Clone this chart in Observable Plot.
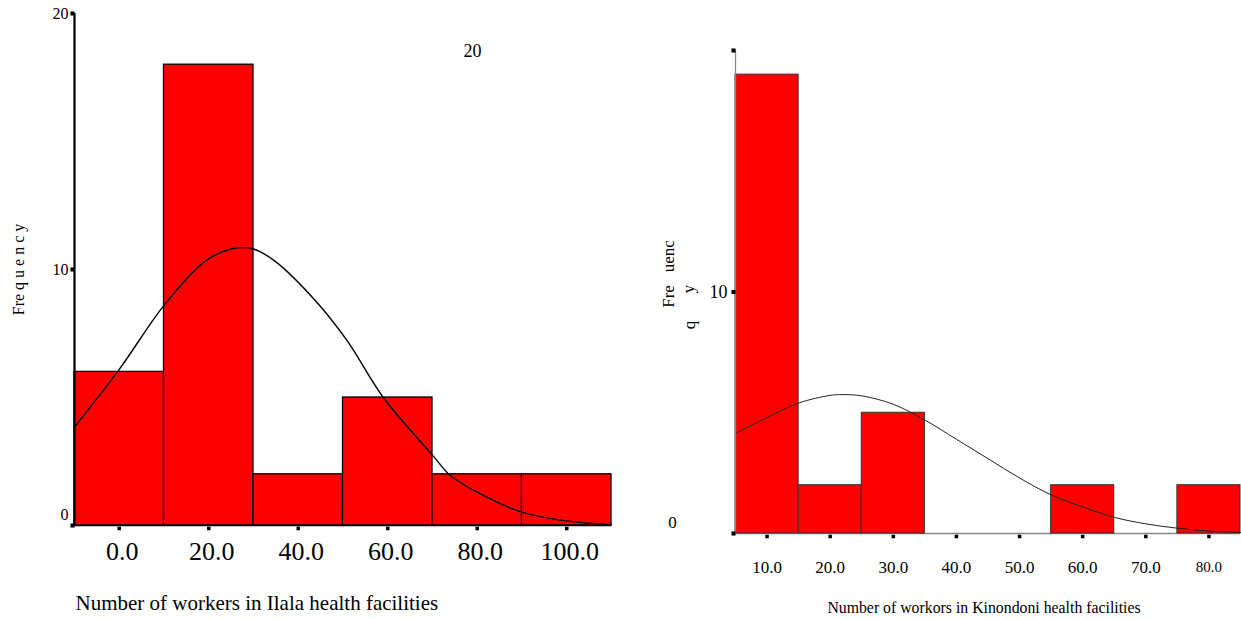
<!DOCTYPE html>
<html>
<head>
<meta charset="utf-8">
<script src="https://cdn.jsdelivr.net/npm/d3@7"></script>
<script src="https://cdn.jsdelivr.net/npm/@observablehq/plot@0.6"></script>
<style>
  html, body { margin: 0; padding: 0; background: #fff; }
  #wrap { position: relative; width: 1241px; height: 619px; overflow: hidden; font-family: "Liberation Serif", "Times New Roman", serif; }
  #left, #right { position: absolute; top: 0; }
  #left { left: 0; }
  #right { left: 640px; }
</style>
</head>
<body>
<div id="wrap"><div id="left"></div><div id="right"></div></div>
<script>
// ---- Ilala (left) ----
const ilalaCenters = [0, 20, 40, 60, 80, 100];
const ilalaCounts = [6, 18, 2, 5, 2, 2];
const ilalaBinWidth = 20;
const ilalaTicks = [0, 20, 40, 60, 80, 100];
const ilalaTickLabels = ["0.0", "20.0", "40.0", "60.0", "80.0", "100.0"];
const ilalaYTicks = [0, 10, 20];
const ilalaYTickLabels = ["0", "10", "20"];
const ilalaCurveX = [-10, 0, 10, 19, 25, 30, 35, 44, 51, 59, 70, 74, 80, 90, 99, 110];
const ilalaCurveY = [3.85, 6.1, 8.6, 10.3, 10.8, 10.8, 10.3, 8.75, 7.2, 5.0, 2.75, 1.95, 1.3, 0.52, 0.2, 0.03];

// ---- Kinondoni (right) ----
const kinCenters = [10, 20, 30, 40, 50, 60, 70, 80];
const kinCounts = [19, 2, 5, 0, 0, 2, 0, 2];
const kinBinWidth = 10;
const kinTicks = [10, 20, 30, 40, 50, 60, 70, 80];
const kinTickLabels = ["10.0", "20.0", "30.0", "40.0", "50.0", "60.0", "70.0", "80.0"];
const kinYTicks = [0, 10, 20];
const kinYTickLabels = ["0", "10", ""];
const kinCurveX = [5, 10, 15, 20, 22, 25, 30, 35, 40, 45, 50, 55, 60, 65, 70, 75, 80, 85];
const kinCurveY = [4.15, 4.8, 5.4, 5.72, 5.75, 5.7, 5.35, 4.7, 3.9, 3.1, 2.3, 1.6, 1.1, 0.67, 0.4, 0.22, 0.1, 0.04];

const FONT = "'Liberation Serif', 'Times New Roman', serif";

const ilalaBins = ilalaCenters.map((c, i) => ({c, n: ilalaCounts[i]}));
const ilalaCurve = ilalaCurveX.map((x, i) => ({x, y: ilalaCurveY[i]}));
const ilalaYT = ilalaYTicks.map((v, i) => ({v, t: ilalaYTickLabels[i]}));
const ilalaXT = ilalaTicks.map((v, i) => ({v, t: ilalaTickLabels[i]}));

const left = Plot.plot({
  width: 640, height: 619,
  marginLeft: 74, marginRight: 29, marginTop: 13, marginBottom: 94,
  style: {fontFamily: FONT, background: "transparent", color: "#000", overflow: "visible"},
  x: {domain: [-10, 110], axis: null},
  y: {domain: [0, 20], axis: null},
  marks: [
    Plot.rect(ilalaBins, {x1: d => d.c - ilalaBinWidth / 2, x2: d => d.c + ilalaBinWidth / 2, y1: 0, y2: "n", fill: "#ff0000", stroke: "#000", strokeWidth: 1.3}),
    Plot.line(ilalaCurve, {x: "x", y: "y", stroke: "#000", strokeWidth: 1.4, curve: "catmull-rom"}),
    Plot.ruleY([0], {stroke: "#000", strokeWidth: 1.3}),
    Plot.ruleX([-10], {stroke: "#000", strokeWidth: 2.2}),
    Plot.dot(ilalaYTicks, {x: -10, y: d => d, symbol: "square", r: 2.3, fill: "#000", stroke: null, dx: -2}),
    Plot.dot(ilalaTicks, {x: d => d, y: 0, symbol: "square", r: 2, fill: "#000", stroke: null, dy: 3}),
    Plot.text(ilalaYT.filter(d => d.v !== 0), {x: -10, y: "v", text: "t", textAnchor: "end", dx: -6, fontSize: 16}),
    Plot.text(ilalaYT.filter(d => d.v === 0), {x: -10, y: "v", text: "t", textAnchor: "end", dx: -6, dy: -11, fontSize: 16}),
    Plot.text(ilalaXT, {x: "v", y: 0, text: "t", dy: 26, dx: 3, fontSize: 26}),
    Plot.text(["Fre q u e n c y"], {frameAnchor: "left", textAnchor: "middle", dx: -56, rotate: -90, fontSize: 16}),
    Plot.text(["Number of workers in Ilala health facilities"], {frameAnchor: "bottom-left", textAnchor: "start", dx: 1, dy: 84, fontSize: 21}),
    Plot.text(["20"], {frameAnchor: "top-left", dx: 389, dy: 31, fontSize: 18})
  ]
});
document.getElementById("left").appendChild(left);

const kinBins = kinCenters.map((c, i) => ({c, n: kinCounts[i]})).filter(d => d.n > 0);
const kinCurve = kinCurveX.map((x, i) => ({x, y: kinCurveY[i]}));
const kinYT = kinYTicks.map((v, i) => ({v, t: kinYTickLabels[i]}));
const kinXT = kinTicks.map((v, i) => ({v, t: kinTickLabels[i]}));

const right = Plot.plot({
  width: 601, height: 619,
  marginLeft: 95, marginRight: 1, marginTop: 50, marginBottom: 86,
  style: {fontFamily: FONT, background: "transparent", color: "#000", overflow: "visible"},
  x: {domain: [5, 85], axis: null},
  y: {domain: [0, 20], axis: null},
  marks: [
    Plot.ruleY([0], {stroke: "#888", strokeWidth: 1.3}),
    Plot.rect(kinBins, {x1: d => d.c - kinBinWidth / 2, x2: d => d.c + kinBinWidth / 2, y1: 0, y2: "n", fill: "#ff0000", stroke: "#333", strokeWidth: 1}),
    Plot.line(kinCurve, {x: "x", y: "y", stroke: "#222", strokeWidth: 1, curve: "catmull-rom"}),
    Plot.ruleX([5], {stroke: "#888", strokeWidth: 1.3}),
    Plot.dot(kinYTicks, {x: 5, y: d => d, symbol: "square", r: 2.3, fill: "#000", stroke: null, dx: -2}),
    Plot.dot(kinTicks, {x: d => d, y: 0, symbol: "square", r: 2, fill: "#000", stroke: null, dy: 3}),
    Plot.text(kinYT.filter(d => d.v === 10), {x: 5, y: "v", text: "t", textAnchor: "end", dx: -8, fontSize: 18}),
    Plot.text(kinYT.filter(d => d.v === 0), {x: 5, y: "v", text: "t", dx: -63, dy: -11, fontSize: 17}),
    Plot.text(kinXT.filter(d => d.v !== 80), {x: "v", y: 0, text: "t", dy: 34, fontSize: 17}),
    Plot.text(kinXT.filter(d => d.v === 80), {x: "v", y: 0, text: "t", dy: 34, fontSize: 15}),
    Plot.text(["Fre   uenc"], {frameAnchor: "left", textAnchor: "middle", dx: -67, dy: -18, rotate: -90, fontSize: 17}),
    Plot.text(["y"], {frameAnchor: "left", textAnchor: "middle", dx: -47, dy: -3, rotate: -90, fontSize: 17}),
    Plot.text(["q"], {frameAnchor: "left", textAnchor: "middle", dx: -46, dy: 33, rotate: -90, fontSize: 17}),
    Plot.text(["Number of workors in Kinondoni health facilities"], {frameAnchor: "bottom", dx: -4, dy: 79, fontSize: 15.8})
  ]
});
document.getElementById("right").appendChild(right);
</script>
</body>
</html>
